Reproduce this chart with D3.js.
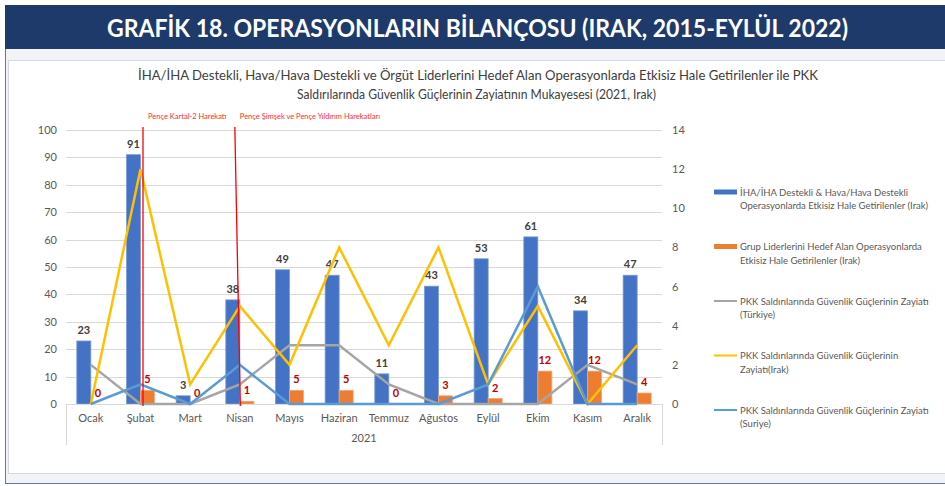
<!DOCTYPE html>
<html>
<head>
	<meta charset="utf-8">
	<title>Grafik 18</title>
	<script src="https://cdnjs.cloudflare.com/ajax/libs/d3/7.8.5/d3.min.js"></script>
	<style>
		body { margin: 0; background: #fff; }
		text { font-family: Lato, "Open Sans", sans-serif; }
	</style>
</head>
<body>
	<svg id="chart" width="945" height="486"></svg>
	<script>
		// values (2021, Irak)
		const months = ["Ocak", "Şubat", "Mart", "Nisan", "Mayıs", "Haziran", "Temmuz", "Ağustos", "Eylül", "Ekim", "Kasım", "Aralık"];
		const ihaValues = [23, 91, 3, 38, 49, 47, 11, 43, 53, 61, 34, 47];
		const liderValues = [0, 5, 0, 1, 5, 5, 0, 3, 2, 12, 12, 4];
		const turkiyeValues = [2, 0, 0, 1, 3, 3, 1, 0, 0, 0, 2, 1];
		const irakValues = [0, 12, 1, 5, 2, 8, 3, 8, 1, 5, 0, 3];
		const suriyeValues = [0, 1, 0, 2, 0, 0, 0, 0, 1, 6, 0, 0];
		const leftTicks = [0, 10, 20, 30, 40, 50, 60, 70, 80, 90, 100];
		const rightTicks = [0, 2, 4, 6, 8, 10, 12, 14];
		const yearLabel = "2021";
		const events = [
			{ month: "Şubat", label: "Pençe Kartal-2 Harekatı" },
			{ month: "Nisan", label: "Pençe Şimşek ve Pençe Yıldırım Harekatları" }
		];
		const legendLabels = [
			["İHA/İHA Destekli & Hava/Hava Destekli", "Operasyonlarda Etkisiz Hale Getirilenler (Irak)"],
			["Grup Liderlerini Hedef Alan Operasyonlarda", "Etkisiz Hale Getirilenler (Irak)"],
			["PKK Saldırılarında Güvenlik Güçlerinin Zayiatı", "(Türkiye)"],
			["PKK Saldırılarında Güvenlik Güçlerinin", "Zayiatı(Irak)"],
			["PKK Saldırılarında Güvenlik Güçlerinin Zayiatı", "(Suriye)"]
		];
		const headerTitle = "GRAFİK 18. OPERASYONLARIN BİLANÇOSU (IRAK, 2015-EYLÜL 2022)";
		const subTitle = [
			"İHA/İHA Destekli, Hava/Hava Destekli ve Örgüt Liderlerini Hedef Alan Operasyonlarda Etkisiz Hale Getirilenler ile PKK",
			"Saldırılarında Güvenlik Güçlerinin Zayiatının Mukayesesi (2021, Irak)"
		];

		const svg = d3.select("#chart");

		// frame + header band
		svg.append("rect").attr("x", 5.5).attr("y", 5.5).attr("width", 945).attr("height", 478)
			.attr("fill", "#f2f3f7").attr("stroke", "#5f7aa0");
		svg.append("rect").attr("x", 5).attr("y", 5).attr("width", 940).attr("height", 44).attr("fill", "#1d3a6b");
		svg.append("rect").attr("x", 8.5).attr("y", 60.5).attr("width", 940).attr("height", 413)
			.attr("fill", "#fff").attr("stroke", "#d3d8e2");

		svg.append("text").attr("x", 107).attr("y", 37)
			.attr("textLength", 741).attr("lengthAdjust", "spacingAndGlyphs")
			.attr("fill", "#fff").attr("font-size", 25).attr("font-weight", "bold")
			.text(headerTitle);

		svg.selectAll(".sub").data(subTitle).join("text")
			.attr("class", "sub")
			.attr("x", (d, i) => i ? 297 : 138)
			.attr("y", (d, i) => 80 + i * 19)
			.attr("textLength", (d, i) => i ? 359 : 680).attr("lengthAdjust", "spacingAndGlyphs")
			.attr("fill", "#404040").attr("font-size", 12.5)
			.text(d => d);

		// scales
		const x0 = d3.scaleBand().domain(months).range([66, 662]).padding(0);
		const x1 = d3.scaleBand().domain(["iha", "lider"]).range([0, x0.bandwidth()]).paddingInner(0).paddingOuter(0.77);
		const yL = d3.scaleLinear().domain([0, 100]).range([404, 130]);
		const yR = d3.scaleLinear().domain([0, 14]).range([404, 130]);
		const cx = m => x0(m) + x0.bandwidth() / 2;

		// gridlines
		svg.append("g").selectAll("line").data(leftTicks.slice(1)).join("line")
			.attr("x1", 66).attr("x2", 662)
			.attr("y1", d => Math.round(yL(d)) + 0.5).attr("y2", d => Math.round(yL(d)) + 0.5)
			.attr("stroke", "#d9d9d9");

		// left axis
		const axL = svg.append("g").attr("transform", "translate(66,0)")
			.call(d3.axisLeft(yL).tickValues(leftTicks).tickSize(0).tickPadding(9));
		axL.select(".domain").remove();
		axL.selectAll("text").attr("fill", "#595959").attr("font-size", 11).style("font-family", "Lato, sans-serif");

		// right axis
		const axR = svg.append("g").attr("transform", "translate(662,0)")
			.call(d3.axisRight(yR).tickValues(rightTicks).tickSize(0).tickPadding(10));
		axR.select(".domain").remove();
		axR.selectAll("text").attr("fill", "#595959").attr("font-size", 11).style("font-family", "Lato, sans-serif");

		// bars
		const rows = months.map((m, i) => ({ m, iha: ihaValues[i], lider: liderValues[i] }));
		const groups = svg.append("g").selectAll("g").data(rows).join("g")
			.attr("transform", d => `translate(${x0(d.m)},0)`);
		groups.append("rect")
			.attr("x", x1("iha")).attr("width", x1.bandwidth())
			.attr("y", d => yL(d.iha)).attr("height", d => yL(0) - yL(d.iha))
			.attr("fill", "#4472c4").attr("stroke", "#7b9cd8").attr("stroke-width", 0.8);
		groups.append("rect")
			.attr("x", x1("lider")).attr("width", x1.bandwidth())
			.attr("y", d => yL(d.lider)).attr("height", d => yL(0) - yL(d.lider))
			.attr("fill", "#ed7d31").attr("stroke", "#f4a873").attr("stroke-width", 0.8);

		// x axis
		svg.append("line").attr("x1", 66).attr("x2", 662).attr("y1", 404.5).attr("y2", 404.5).attr("stroke", "#d9d9d9");
		svg.append("g").selectAll("line").data([66, 662]).join("line")
			.attr("x1", d => d + 0.5).attr("x2", d => d + 0.5).attr("y1", 404).attr("y2", 445)
			.attr("stroke", "#d9d9d9");
		svg.append("g").selectAll("text").data(months).join("text")
			.attr("x", cx).attr("y", 422).attr("text-anchor", "middle")
			.attr("fill", "#595959").attr("font-size", 11)
			.text(d => d);
		svg.append("text").attr("x", 364).attr("y", 442).attr("text-anchor", "middle")
			.attr("fill", "#595959").attr("font-size", 11).text(yearLabel);

		// lines (right axis)
		const lineSeries = [
			{ values: turkiyeValues, color: "#a5a5a5" },
			{ values: irakValues, color: "#ffc000" },
			{ values: suriyeValues, color: "#5b9bd5" }
		];
		const line = d3.line().x((d, i) => cx(months[i])).y(d => yR(d));
		svg.append("g").selectAll("path").data(lineSeries).join("path")
			.attr("d", d => line(d.values))
			.attr("fill", "none").attr("stroke", d => d.color)
			.attr("stroke-width", 2.5).attr("stroke-linejoin", "miter");

		// data labels
		groups.append("text")
			.attr("x", x1("iha") + x1.bandwidth() / 2).attr("y", d => yL(d.iha) - 7)
			.attr("text-anchor", "middle").attr("font-size", 11).attr("font-weight", "bold")
			.attr("fill", "#404040").text(d => d.iha);
		groups.append("text")
			.attr("x", x1("lider") + x1.bandwidth() / 2).attr("y", d => yL(d.lider) - 7)
			.attr("text-anchor", "middle").attr("font-size", 11).attr("font-weight", "bold")
			.attr("fill", "#c00000").text(d => d.lider);

		// operation markers
		const ev = svg.append("g").selectAll("g").data(events).join("g");
		ev.append("line")
			.attr("x1", (d, i) => cx(d.month) + (i ? -5 : 2.5)).attr("y1", 127)
			.attr("x2", (d, i) => cx(d.month) + (i ? 0.5 : 2.5)).attr("y2", 406)
			.attr("stroke", "#ff0000").attr("stroke-width", 1.3);
		ev.append("text")
			.attr("x", (d, i) => cx(d.month) + (i ? 0 : 7.5)).attr("y", 119)
			.attr("font-size", 7.5).attr("fill", "#ff2d2d").text(d => d.label);

		// legend
		const legendItems = [
			{ type: "bar", color: "#4472c4" },
			{ type: "bar", color: "#ed7d31" },
			{ type: "line", color: "#a5a5a5" },
			{ type: "line", color: "#ffc000" },
			{ type: "line", color: "#5b9bd5" }
		].map((d, i) => ({ ...d, lines: legendLabels[i] }));
		const lg = svg.append("g").selectAll("g").data(legendItems).join("g")
			.attr("transform", (d, i) => `translate(714,${192 + i * 54.5})`);
		lg.filter(d => d.type === "bar").append("rect")
			.attr("x", 0).attr("y", -2.5).attr("width", 23).attr("height", 5).attr("fill", d => d.color);
		lg.filter(d => d.type === "line").append("line")
			.attr("x1", 0).attr("x2", 23).attr("y1", 0).attr("y2", 0)
			.attr("stroke", d => d.color).attr("stroke-width", 2);
		lg.selectAll("text").data(d => d.lines).join("text")
			.attr("x", 26).attr("y", (d, i) => 3.5 + i * 13.5)
			.attr("font-size", 9.5).attr("fill", "#595959").text(d => d);
	</script>
</body>
</html>
